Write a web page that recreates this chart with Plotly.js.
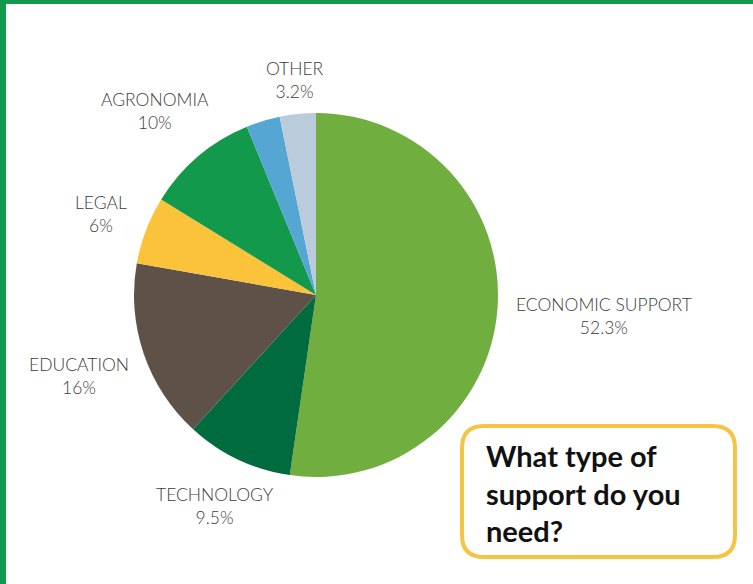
<!DOCTYPE html>
<html>
<head>
<meta charset="utf-8">
<script src="https://cdn.plot.ly/plotly-3.0.1.min.js"></script>
<style>html,body{margin:0;padding:0;background:#fff;}#chart{width:753px;height:584px;}</style>
</head>
<body>
<div id="chart"></div>
<script>
// Data
var categories = ['ECONOMIC SUPPORT', 'TECHNOLOGY', 'EDUCATION', 'LEGAL', 'AGRONOMIA', 'UNLABELED', 'OTHER'];
var shownLabels = ['ECONOMIC SUPPORT', 'TECHNOLOGY', 'EDUCATION', 'LEGAL', 'AGRONOMIA', '', 'OTHER'];
var percentLabels = ['52.3%', '9.5%', '16%', '6%', '10%', '', '3.2%'];
var values = [52.3, 9.5, 16, 6, 10, 3.0, 3.2];
var colors = ['#71AE40', '#016B40', '#5D5148', '#FBC33A', '#13994C', '#56A6D4', '#BACBDB'];
var titleText = 'What type of<br>support do you<br>need?';

// Layout helpers (pixel -> paper)
var W = 753, H = 584;
function px(x) { return x / W; }
function py(y) { return 1 - y / H; }

// label anchor positions in pixels (layout, not data)
var labelPos = [[604, 316], [215, 506], [79, 376], [101, 214], [155, 111], null, [295, 80]];

var annotations = [];
for (var i = 0; i < categories.length; i++) {
  if (!shownLabels[i]) continue;
  annotations.push({
    xref: 'paper', yref: 'paper', x: px(labelPos[i][0]), y: py(labelPos[i][1]),
    xanchor: 'center', yanchor: 'middle', showarrow: false, align: 'center',
    text: shownLabels[i] + '<br>' + percentLabels[i],
    font: {family: 'Lato, "Open Sans", sans-serif', size: 17.5, color: '#3c3c3c', weight: 300}
  });
}
annotations.push({
  xref: 'paper', yref: 'paper', x: px(484), y: py(493),
  xanchor: 'left', yanchor: 'middle', showarrow: false, align: 'left',
  text: titleText,
  font: {family: 'Lato, "DejaVu Sans", sans-serif', size: 29, color: '#111', weight: 700}
});

// rounded rect path in paper coords
function roundRect(x0, y0, x1, y1, r) {
  var rx = r / W, ry = r / H;
  var X0 = px(x0), X1 = px(x1), Y0 = py(y0), Y1 = py(y1);
  return 'M ' + (X0 + rx) + ',' + Y0 +
    ' L ' + (X1 - rx) + ',' + Y0 +
    ' Q ' + X1 + ',' + Y0 + ' ' + X1 + ',' + (Y0 - ry) +
    ' L ' + X1 + ',' + (Y1 + ry) +
    ' Q ' + X1 + ',' + Y1 + ' ' + (X1 - rx) + ',' + Y1 +
    ' L ' + (X0 + rx) + ',' + Y1 +
    ' Q ' + X0 + ',' + Y1 + ' ' + X0 + ',' + (Y1 + ry) +
    ' L ' + X0 + ',' + (Y0 - ry) +
    ' Q ' + X0 + ',' + Y0 + ' ' + (X0 + rx) + ',' + Y0 + ' Z';
}

var shapes = [
  {type: 'rect', xref: 'paper', yref: 'paper', x0: 0, x1: 1, y0: py(4), y1: 1, fillcolor: '#13994E', line: {width: 0}},
  {type: 'rect', xref: 'paper', yref: 'paper', x0: 0, x1: px(6), y0: 0, y1: 1, fillcolor: '#13994E', line: {width: 0}},
  {type: 'path', xref: 'paper', yref: 'paper', path: roundRect(462, 426, 735, 557, 22), line: {color: '#F6C445', width: 4}, fillcolor: 'rgba(0,0,0,0)'}
];

var trace = {
  type: 'pie',
  labels: categories,
  values: values,
  sort: false,
  direction: 'clockwise',
  rotation: 0,
  marker: {colors: colors, line: {width: 0}},
  textinfo: 'none',
  hoverinfo: 'none',
  showlegend: false,
  domain: {x: [px(134), px(498)], y: [py(477), py(113)]}
};

var layout = {
  width: W, height: H,
  margin: {l: 0, r: 0, t: 0, b: 0},
  paper_bgcolor: '#fff',
  showlegend: false,
  annotations: annotations,
  shapes: shapes
};

Plotly.newPlot('chart', [trace], layout, {displayModeBar: false, staticPlot: true});
</script>
</body>
</html>
